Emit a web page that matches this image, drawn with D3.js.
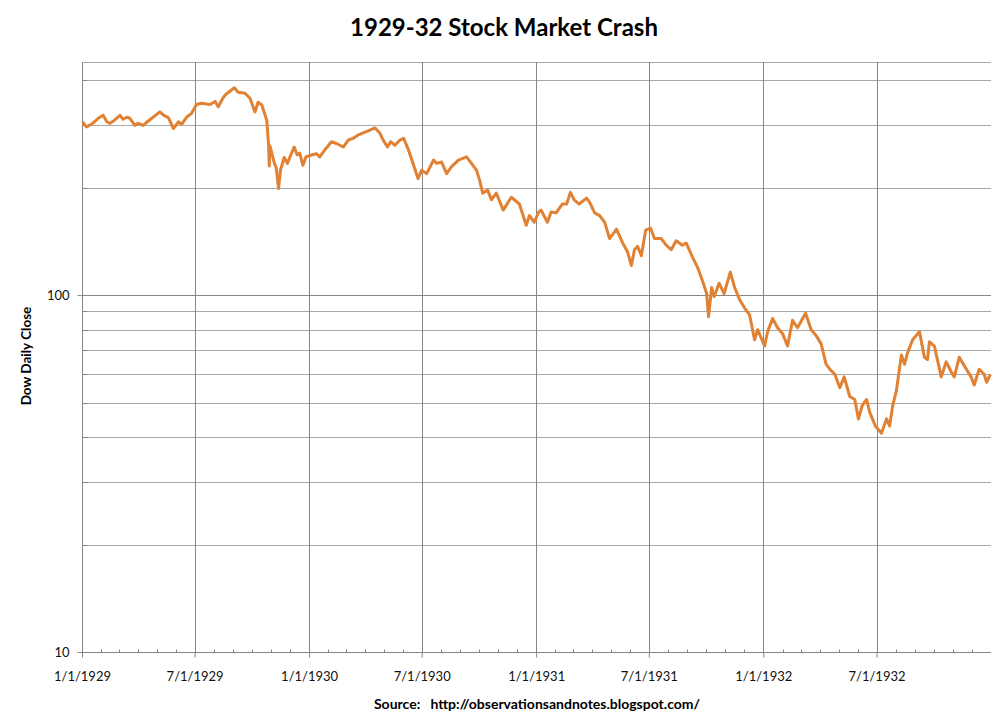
<!DOCTYPE html>
<html>
<head>
<meta charset="utf-8">
<script src="https://cdn.jsdelivr.net/npm/d3@7"></script>
<style>
  html, body { margin: 0; padding: 0; background: #fff; }
  svg { display: block; }
</style>
</head>
<body>
<svg id="chart" width="1008" height="720"></svg>
<script>
// ---------- DATA ----------
const dates = [
  "1929-01-02","1929-01-08","1929-01-16","1929-01-22","1929-01-27","1929-02-04","1929-02-10","1929-02-15",
  "1929-02-20","1929-03-03","1929-03-08","1929-03-14","1929-03-19","1929-03-27","1929-04-01","1929-04-09",
  "1929-04-17","1929-04-28","1929-05-06","1929-05-14","1929-05-20","1929-05-28","1929-06-05","1929-06-10",
  "1929-06-18","1929-06-26","1929-07-04","1929-07-12","1929-07-26","1929-08-03","1929-08-08","1929-08-16",
  "1929-08-20","1929-09-03","1929-09-09","1929-09-20","1929-09-28","1929-10-06","1929-10-11","1929-10-17",
  "1929-10-25","1929-10-28","1929-10-29","1929-10-30","1929-11-06","1929-11-09","1929-11-13","1929-11-16",
  "1929-11-22","1929-11-27","1929-12-08","1929-12-13","1929-12-17","1929-12-22","1929-12-27",
  "1930-01-05","1930-01-13","1930-01-18","1930-01-26","1930-02-06","1930-02-14","1930-02-25","1930-03-05",
  "1930-03-13","1930-03-21","1930-04-03","1930-04-17","1930-04-25","1930-04-30","1930-05-07","1930-05-12",
  "1930-05-19","1930-05-27","1930-06-02","1930-06-09","1930-06-17","1930-06-25","1930-07-01","1930-07-09",
  "1930-07-20","1930-07-25","1930-08-02","1930-08-10","1930-08-18","1930-08-29","1930-09-11","1930-09-19",
  "1930-09-27","1930-10-02","1930-10-07","1930-10-15","1930-10-21","1930-10-29","1930-11-09","1930-11-22",
  "1930-12-05","1930-12-16","1930-12-21","1930-12-29",
  "1931-01-05","1931-01-09","1931-01-19","1931-01-25","1931-02-02","1931-02-12","1931-02-19","1931-02-25",
  "1931-03-03","1931-03-11","1931-03-23","1931-03-28","1931-04-05","1931-04-13","1931-04-21","1931-04-29",
  "1931-05-10","1931-05-20","1931-05-28","1931-06-03","1931-06-08","1931-06-13","1931-06-19","1931-06-26",
  "1931-07-04","1931-07-10","1931-07-21","1931-07-29","1931-08-06","1931-08-14","1931-08-24","1931-08-30",
  "1931-09-09","1931-09-17","1931-09-25","1931-10-02","1931-10-05","1931-10-10","1931-10-14","1931-10-22",
  "1931-10-30","1931-11-09","1931-11-16","1931-11-24","1931-12-02","1931-12-10","1931-12-18","1931-12-23",
  "1932-01-03","1932-01-08","1932-01-16","1932-01-24","1932-02-01","1932-02-09","1932-02-17","1932-02-25",
  "1932-03-09","1932-03-18","1932-03-26","1932-04-03","1932-04-11","1932-04-17","1932-04-25","1932-05-03",
  "1932-05-10","1932-05-19","1932-05-27","1932-06-02","1932-06-08","1932-06-15","1932-06-20","1932-06-29",
  "1932-07-09","1932-07-17","1932-07-22","1932-07-27","1932-08-02","1932-08-10","1932-08-15","1932-08-20",
  "1932-08-28","1932-09-08","1932-09-16","1932-09-21","1932-09-24","1932-10-02","1932-10-13","1932-10-21",
  "1932-10-29","1932-11-03","1932-11-11","1932-11-20","1932-11-30","1932-12-05","1932-12-13","1932-12-21",
  "1932-12-25","1932-12-31"
];
const closes = [
  306,296,301,307,313,319,306,303,
  307,319,311,315,313,299,303,299,
  307,318,326,318,314,293,306,301,
  315,323,342,345,342,349,337,358,
  365,381,370,368,356,326,347,341,
  309,262,230,262,235,228,199,224,
  243,234,260,247,250,231,244,
  247,249,244,255,269,266,260,272,
  275,281,287,294,284,272,260,269,
  263,272,275,257,234,212,224,219,
  239,234,236,219,229,239,244,234,
  224,210,193,197,185,193,173,188,
  180,157,167,160,
  171,173,160,171,170,180,180,194,
  185,180,187,182,170,167,160,144,
  153,140,132,121,134,137,129,152,
  154,144,144,138,134,142,138,140,
  128,120,110,101,87,105,99,108,
  101,116,105,97,92,88,75,80,
  72,79,86,81,78,72,85,81,
  89,80,77,73,64,62,60,55,
  59,52,51,45,49,51,47,43,
  41,45,43,49,54,68,64,69,
  75,79,67,66,74,72,59,65,
  61,59,67,63,59,56,62,60,
  57,60
];
const yTickValues = [10, 100];
const yGridValues = [20, 30, 40, 50, 60, 70, 80, 90, 100, 200, 300, 400];
const xTickLabels = ["1/1/1929","7/1/1929","1/1/1930","7/1/1930","1/1/1931","7/1/1931","1/1/1932","7/1/1932"];
const titleText = "1929-32 Stock Market Crash";
const yAxisTitle = "Dow Daily Close";
const sourceText = "Source:   http://observationsandnotes.blogspot.com/";

// ---------- DRAW ----------
(function () {
  const svg = d3.select("#chart");
  const pLeft = 82, pRight = 991, pTop = 62, pBottom = 652;
  const parse = d3.utcParse("%Y-%m-%d");
  const fmtIn = d3.utcParse("%m/%d/%Y");

  const x = d3.scaleUtc()
    .domain([parse("1929-01-01"), parse("1933-01-01")])
    .range([pLeft, pRight]);
  const y = d3.scaleLog()
    .domain([10, 450])
    .range([pBottom, pTop]);

  const data = dates.map((d, i) => ({ date: parse(d), value: closes[i] }));

  const majorColor = "#868686";
  const minorColor = "#a9a9a9";
  const font = "Lato, 'Open Sans', 'Liberation Sans', sans-serif";

  // horizontal gridlines
  svg.append("g").selectAll("line")
    .data(yGridValues)
    .join("line")
    .attr("x1", pLeft).attr("x2", pRight)
    .attr("y1", d => Math.round(y(d)) + 0.5)
    .attr("y2", d => Math.round(y(d)) + 0.5)
    .attr("stroke", d => d === 100 ? majorColor : minorColor)
    .attr("stroke-width", 1);

  // top border line
  svg.append("line")
    .attr("x1", pLeft).attr("x2", pRight)
    .attr("y1", pTop + 0.5).attr("y2", pTop + 0.5)
    .attr("stroke", minorColor);

  // vertical gridlines
  const xTickDates = xTickLabels.map(s => fmtIn(s));
  svg.append("g").selectAll("line")
    .data(xTickDates.slice(1))
    .join("line")
    .attr("x1", d => Math.round(x(d)) + 0.5)
    .attr("x2", d => Math.round(x(d)) + 0.5)
    .attr("y1", pTop).attr("y2", pBottom)
    .attr("stroke", majorColor);

  // y axis (left)
  const yAxis = d3.axisLeft(y)
    .tickValues(yTickValues)
    .tickFormat(d3.format("d"))
    .tickSize(5)
    .tickPadding(8);
  const gy = svg.append("g")
    .attr("transform", `translate(${pLeft + 0.5},0)`)
    .call(yAxis);
  gy.select(".domain").attr("stroke", majorColor).attr("d", `M0,${pTop}V${pBottom}`);
  gy.selectAll(".tick line").attr("stroke", majorColor);
  gy.selectAll(".tick text")
    .attr("font-family", font).attr("font-size", 13).attr("fill", "#111");
  gy.append("g").selectAll("line")
    .data(yGridValues.filter(v => v !== 100))
    .join("line")
    .attr("x1", 0).attr("x2", 5)
    .attr("y1", d => Math.round(y(d)) + 0.5).attr("y2", d => Math.round(y(d)) + 0.5)
    .attr("stroke", majorColor);

  // x axis (bottom)
  const xAxis = d3.axisBottom(x)
    .tickValues(xTickDates)
    .tickFormat((d, i) => xTickLabels[i])
    .tickSize(5)
    .tickPadding(14);
  const gx = svg.append("g")
    .attr("transform", `translate(0,${pBottom + 0.5})`)
    .call(xAxis);
  gx.select(".domain").attr("stroke", majorColor).attr("d", `M${pLeft},0H${pRight}`);
  gx.selectAll(".tick line").attr("stroke", majorColor);
  gx.selectAll(".tick text")
    .attr("font-family", font).attr("font-size", 13).attr("fill", "#111");
  const months = d3.utcMonth.range(parse("1929-02-01"), parse("1933-01-01"));
  gx.append("g").selectAll("line")
    .data(months)
    .join("line")
    .attr("x1", d => Math.round(x(d)) + 0.5).attr("x2", d => Math.round(x(d)) + 0.5)
    .attr("y1", 0).attr("y2", -3)
    .attr("stroke", majorColor);

  // the line
  const line = d3.line()
    .x(d => x(d.date))
    .y(d => y(d.value))
    .curve(d3.curveLinear);
  svg.append("path")
    .datum(data)
    .attr("d", line)
    .attr("fill", "none")
    .attr("stroke", "#E08133")
    .attr("stroke-width", 3)
    .attr("stroke-linejoin", "round");

  // title
  svg.append("text")
    .attr("x", 504).attr("y", 36)
    .attr("text-anchor", "middle")
    .attr("font-family", font)
    .attr("font-weight", "bold")
    .attr("font-size", 24)
    .attr("fill", "#000")
    .text(titleText);

  // y axis title
  svg.append("text")
    .attr("transform", "translate(31,356) rotate(-90)")
    .attr("text-anchor", "middle")
    .attr("font-family", font)
    .attr("font-weight", "bold")
    .attr("font-size", 13.5)
    .attr("fill", "#000")
    .text(yAxisTitle);

  // source
  svg.append("text")
    .attr("x", 537).attr("y", 709)
    .attr("text-anchor", "middle")
    .attr("font-family", font)
    .attr("font-weight", "bold")
    .attr("font-size", 14)
    .attr("fill", "#000")
    .style("white-space", "pre")
    .text(sourceText);
})();
</script>
</body>
</html>
